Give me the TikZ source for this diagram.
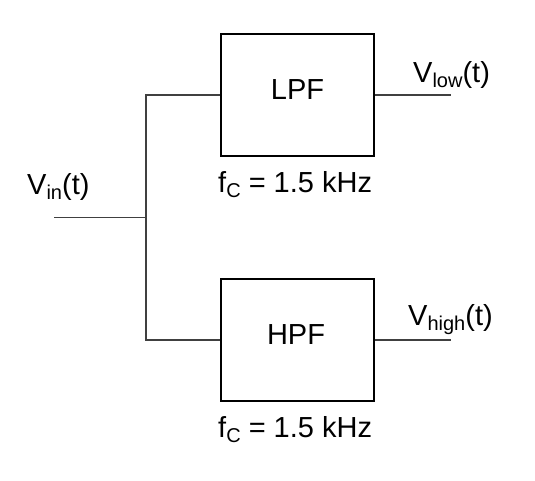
\documentclass[tikz,border=0pt]{standalone}
\usepackage{fontspec}
\setmainfont{Liberation Sans}
\newcommand{\mysubtxt}[1]{\raisebox{-0.18em}{\fontsize{20}{21}\selectfont #1}}
\begin{document}
\begin{tikzpicture}[x=1pt,y=-1pt,
  filterbox/.style={draw=black,line width=2pt,minimum width=153pt,minimum height=122pt,inner sep=0pt},
  wire/.style={draw=black!75,line width=1.1pt},
  lbl/.style={inner sep=0pt,font=\fontsize{29}{33}\selectfont}]
\useasboundingbox (0,0) rectangle (535,480);
\node[filterbox] (lpf) at (297.5,95) {};
\node[filterbox] (hpf) at (297.5,340) {};
\node[lbl,anchor=base] (lpft) at (297.5,99) {LPF};
\node[lbl,anchor=base] (hpft) at (296,344) {HPF};
\coordinate (vin) at (54,217.5);
\coordinate (j) at (146,217.5);
\coordinate (lo) at (451,95);
\coordinate (ho) at (451,340);
\draw[wire] (vin) -- (j);
\draw[wire] (lpf.west) -| (j) |- (hpf.west);
\draw[wire] (lpf.east) -- (lo);
\draw[wire] (hpf.east) -- (ho);
\node[lbl,anchor=base west] (vinl) at (27,194) {V\mysubtxt{in}(t)};
\node[lbl,anchor=base west] (vlowl) at (413,82) {V\mysubtxt{low}(t)};
\node[lbl,anchor=base west] (vhighl) at (408,325) {V\mysubtxt{high}(t)};
\node[lbl,anchor=base west] (fc1) at (218,192) {f\mysubtxt{C} = 1.5 kHz};
\node[lbl,anchor=base west] (fc2) at (218,437) {f\mysubtxt{C} = 1.5 kHz};
\end{tikzpicture}
\end{document}
